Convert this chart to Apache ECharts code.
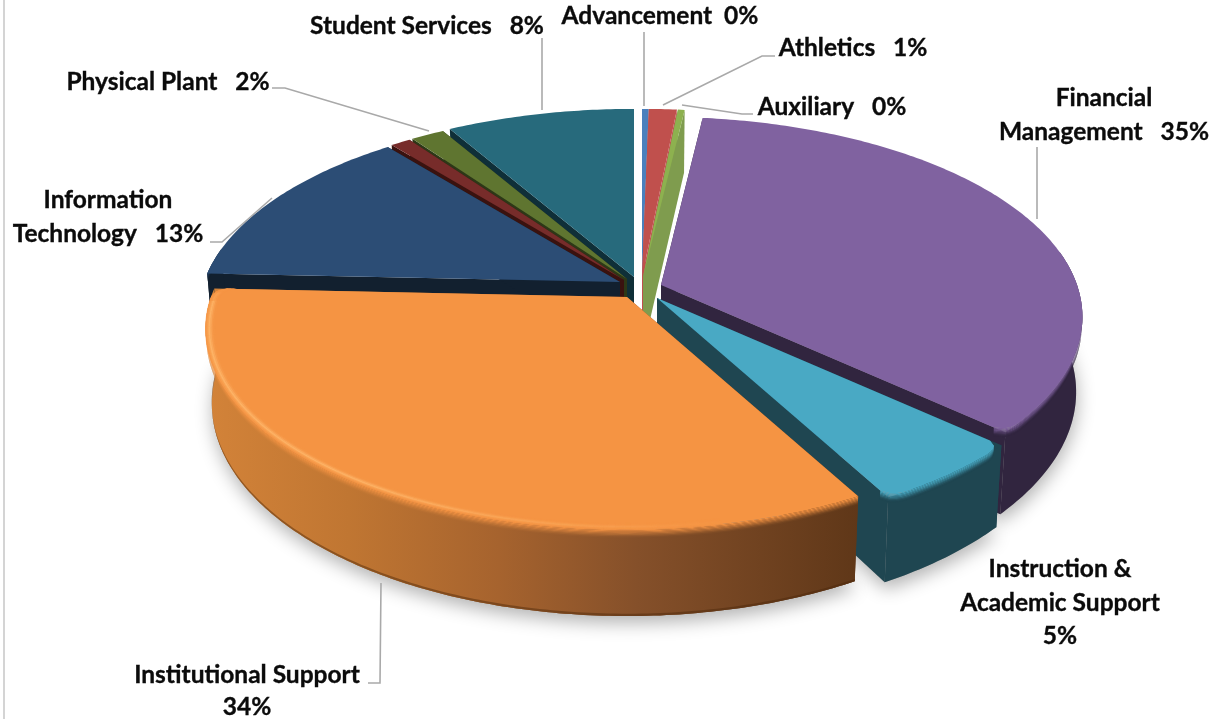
<!DOCTYPE html>
<html>
<head>
<meta charset="utf-8">
<style>html,body{margin:0;padding:0;background:#fff}#chart{width:1215px;height:719px}</style>
<script src="https://cdn.jsdelivr.net/npm/echarts@6/dist/echarts.min.js"></script>
</head>
<body>
<div id="chart"></div>
<script>
// Expense share by functional area, clockwise from twelve o'clock.
const categories = ['Advancement','Athletics','Auxiliary','Financial Management','Instruction & Academic Support','Institutional Support','Information Technology','Other','Physical Plant','Student Services'];
const shares = [0.3,1.25,0.3,34.9,5.3,33.6,13.49,0.9,1.5,8.4];
const total = shares.reduce((a,b)=>a+b,0);

// Slice styling, same order as the categories.
const topColors  = ['#4a80bd','#c0504d','#8db14f','#8062a0','#49a9c4','#f59443','#2c4d75','#772c2a','#5f7530','#276a7c'];
const wallColors = ['#4a80bd','#c0504d','#7f9c4e','#31253f','#1f4651','#c97c37','#12202f','#3a120f','#2d3817','#0f2f38'];
// Where each slice's tip lands once pulled out of the pie.
const tips = [[642,277],[642,277],[643,277],[661,285],[657,298],[627,297],[620,282],[624,280],[627,279],[634,277]];
// Back-to-front painting order.
const paintOrder = [9,8,7,6,0,1,2,3,4,5];
const roundedEnds = {3:[0,1],4:[1,1],5:[0,1]};

// Disc projection.
const RX = 416, RY = 195, PERSP = 0.16, DEPTH = 73, FOOT = 0.985, LIP = 8;
function project(tip, deg, drop, radial) {
  const t = deg*Math.PI/180, u = Math.cos(t)*radial, v = Math.sin(t)*radial;
  const f = 1/(1-PERSP*v);
  const k = 1-(1-FOOT)*drop/DEPTH;
  return [tip[0]+RX*u*f*k, tip[1]+RY*v*f+drop*f];
}
function arcPoints(tip, a0, a1, drop, radialAt) {
  const n = Math.max(2, Math.ceil(Math.abs(a1-a0)/0.75)), pts = [];
  for (let i=0;i<=n;i++) {
    const a = a0+(a1-a0)*i/n;
    pts.push(project(tip, a, drop, radialAt ? radialAt(a) : 1));
  }
  return pts;
}
function sliceAngles(idx) {
  let c = 0;
  for (let i=0;i<idx;i++) c += shares[i];
  return [-90+c/total*360, -90+(c+shares[idx])/total*360];
}
function mix(a,b,w){
  const p=h=>[1,3,5].map(i=>parseInt(h.substr(i,2),16));
  const x=p(a),y=p(b);
  return 'rgb('+x.map((v,i)=>Math.round(v+(y[i]-v)*w)).join(',')+')';
}
// The front of the pie fades from lit to shaded along its width.
const ORANGE = 5;
const orangeStops = [[0,'#d38339'],[0.22,'#c07632'],[0.45,'#a6632e'],[0.66,'#85502a'],[1,'#5f3718']];
function wallFill(idx, toward, w) {
  if (idx !== ORANGE) return mix(toward, wallColors[idx], w);
  return {type:'linear', x:204, y:0, x2:860, y2:0, global:true,
    colorStops: orangeStops.map(s=>({offset:s[0], color:mix(toward, s[1], w)}))};
}
// Eases the outline back near a slice's ends so its corners read as rounded.
function cornerEase(idx, a0, a1) {
  const ends = roundedEnds[idx];
  if (!ends) return () => 1;
  const span = 3, cut = 0.03;
  return a => {
    let r = 1;
    const d0 = a-a0, d1 = a1-a;
    if (ends[0] && d0 < span) r -= cut*(1-Math.sqrt(Math.max(0,1-Math.pow(1-d0/span,2))));
    if (ends[1] && d1 < span) r -= cut*(1-Math.sqrt(Math.max(0,1-Math.pow(1-d1/span,2))));
    return r;
  };
}

function sliceGroup(params, api) {
  const idx = api.value(0);
  const tip = tips[idx];
  const [a0,a1] = sliceAngles(idx);
  const top = topColors[idx];
  const ease = cornerEase(idx, a0, a1);
  const kids = [];
  const poly = (points, fill, seam) => kids.push({type:'polygon', shape:{points}, style:{fill, stroke:seam||null, lineWidth:seam?0.6:0}});
  const base = project(tip, 0, DEPTH, 0);
  // Cut faces.
  [a0,a1].forEach(a=>{
    poly([tip, project(tip,a,0,1), project(tip,a,DEPTH,1), base], wallFill(idx, top, 1));
  });
  // Outer wall: only the stretch facing the viewer.
  const lo = Math.max(a0, -10), hi = Math.min(a1, 190);
  if (hi > lo) {
    poly(arcPoints(tip,lo,hi,0).concat(arcPoints(tip,hi,lo,DEPTH)), wallFill(idx, top, 1));
    if (idx === ORANGE) {
      // Contact edge along the bottom.
      poly(arcPoints(tip,lo,hi,DEPTH-2).concat(arcPoints(tip,hi,lo,DEPTH)), wallFill(idx,'#4a2608',0.55));
    }
    // Rounded lip falling from the top face into the wall.
    for (let b=LIP; b>0; b--) {
      const w = b/LIP;
      poly(arcPoints(tip,lo,hi,b-1,ease).concat(arcPoints(tip,hi,lo,b,ease)), wallFill(idx, top, w*w*(3-2*w)));
    }
  }
  // Top face.
  poly([tip].concat(arcPoints(tip,a0,a1,0,ease)), top);
  // The orange slice catches light along its left and front edge only.
  if (idx === ORANGE) {
    const rows = 6, inset = 0.022, chunk = 2.5;
    for (let a=a0; a<a1; a+=chunk) {
      const b = Math.min(a1, a+chunk), mid = (a+b)/2;
      const along = Math.min(1, Math.max(0, (mid-78)/45)) * Math.min(1, Math.max(0, (a1-mid)/5));
      if (along <= 0) continue;
      for (let s=0;s<rows;s++) {
        const r0 = 1-inset*s/rows, r1 = 1-inset*(s+1)/rows;
        const g = Math.max(0, 1-Math.abs((s+0.5)/rows-0.45)/0.55);
        const outer = x=>ease(x)*r0, inner = x=>ease(x)*r1;
        const c = mix(top,'#ffbb70',g*g*along*0.9);
        poly(arcPoints(tip,a,b,0,outer).concat(arcPoints(tip,b,a,0,inner)), c, c);
      }
    }
  }
  return {type:'group', children:kids};
}

// Soft shadow on the page under the front slices.
function shadowGroup(params, api) {
  const idx = api.value(0);
  const [a0,a1] = sliceAngles(idx);
  return {type:'polygon', shape:{points:[project(tips[idx],0,DEPTH,0)].concat(arcPoints(tips[idx],a0,a1,DEPTH))},
    style:{fill:'#999', shadowColor:'rgba(0,0,0,0.3)', shadowBlur:18, shadowOffsetY:7, shadowOffsetX:1}};
}

// Callouts.
const calloutLines = [
  ['Student Services   8%'],
  ['Advancement  0%'],
  ['Athletics   1%'],
  ['Auxiliary   0%'],
  ['Financial','Management   35%'],
  ['Instruction &','Academic Support','5%'],
  ['Institutional Support','34%'],
  ['Information','Technology   13%'],
  ['Physical Plant   2%']
];
const calloutCentres = [[427,26],[660,16],[853,48],[832,107],[1104,115],[1060,603],[247,691],[108,217],[168,82]];
const calloutPitch = [0,0,0,0,34,33.5,32,34,0];
const leaders = [
  [[542,38],[542,110]],
  [[644,32],[644,106]],
  [[775,56],[762,56],[663,105]],
  [[753,114],[742,114],[682,105]],
  [[1037,147],[1037,219]],
  [[381,583],[380,683],[368,683]],
  [[272,198],[222,242],[210,242]],
  [[272,88],[285,88],[429,131]]
];
const FONT = 'bold 24.5px Lato';

function calloutItem(params, api) {
  const i = api.value(0);
  const rows = calloutLines[i], c = calloutCentres[i], pitch = calloutPitch[i];
  const kids = rows.map((text,r)=>({
    type:'text',
    style:{text, x:c[0], y:c[1]+(r-(rows.length-1)/2)*pitch, align:'center', verticalAlign:'middle', font:FONT, fill:'#0b0b0b', stroke:'#0b0b0b', lineWidth:0.35}
  }));
  return {type:'group', children:kids};
}
function leaderItem(params, api) {
  return {type:'polyline', shape:{points:leaders[api.value(0)]}, style:{fill:null, stroke:'#a9a9a9', lineWidth:1.6}};
}

const chart = echarts.init(document.getElementById('chart'));
chart.setOption({
  animation:false,
  backgroundColor:'#fff',
  graphic:[{type:'rect', shape:{x:3,y:0,width:2,height:719}, style:{fill:'#d4d4d4'}, silent:true}],
  series:[
    {type:'custom', coordinateSystem:'none', z:1, renderItem:shadowGroup, data:[3,4,5].map(i=>[i]), silent:true},
    {type:'custom', coordinateSystem:'none', z:2, renderItem:sliceGroup, data:paintOrder.map(i=>[i,shares[i]]), silent:true},
    {type:'custom', coordinateSystem:'none', z:3, renderItem:leaderItem, data:leaders.map((_,i)=>[i]), silent:true},
    {type:'custom', coordinateSystem:'none', z:4, renderItem:calloutItem, data:calloutLines.map((_,i)=>[i]), silent:true}
  ]
});
</script>
</body>
</html>
